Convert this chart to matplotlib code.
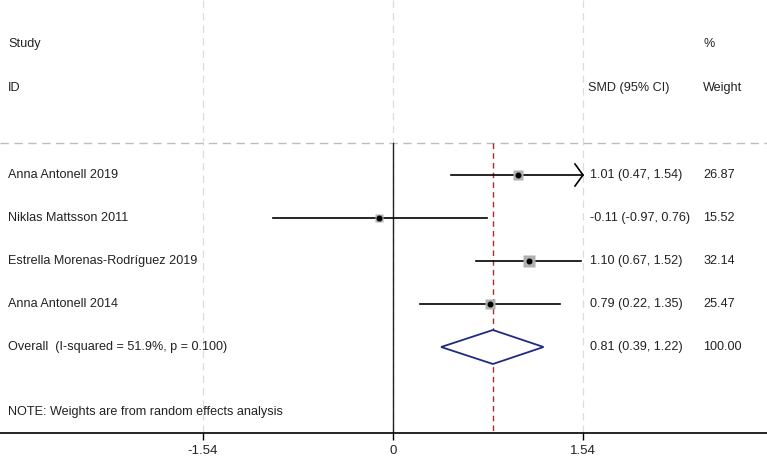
import matplotlib
matplotlib.use("Agg")
import matplotlib.pyplot as plt

plt.rcParams['font.family'] = ['Liberation Sans', 'DejaVu Sans']

studies = ["Anna Antonell 2019", "Niklas Mattsson 2011",
           "Estrella Morenas-Rodríguez 2019", "Anna Antonell 2014"]
smd = [1.01, -0.11, 1.10, 0.79]
lo = [0.47, -0.97, 0.67, 0.22]
hi = [1.54, 0.76, 1.52, 1.35]
weights = [26.87, 15.52, 32.14, 25.47]
overall_label = "Overall  (I-squared = 51.9%, p = 0.100)"
overall = (0.81, 0.39, 1.22)
overall_weight = 100.00
xticks = [-1.54, 0, 1.54]
xticklabels = ["-1.54", "0", "1.54"]
xmax_axis = 1.54

W, H = 767, 462
fig = plt.figure(figsize=(W / 100, H / 100), dpi=100)
ax = fig.add_axes([0, (H - 433) / H, 1, 433 / H])

scale = 190 / 1.54  # px per unit
x0px = 393
ax.set_xlim((0 - x0px) / scale, (W - x0px) / scale)
row_h = 43.0
y0px = 175.0
ax.set_ylim((433 - y0px) / row_h, (0 - y0px) / row_h)

for s in ["top", "right", "left"]:
    ax.spines[s].set_visible(False)
ax.spines["bottom"].set_linewidth(1.2)
ax.set_yticks([])
ax.set_xticks(xticks)
ax.set_xticklabels(xticklabels, fontsize=9.5, color="#222222")
ax.tick_params(axis="x", length=5, width=1.0, pad=4)

top = ax.get_ylim()[1]
bottom = ax.get_ylim()[0]
sep_y = (143 - y0px) / row_h

txt = "#222222"

# gray dashed vertical grid at ticks
for t in xticks:
    ax.plot([t, t], [top, bottom], color="#dcdcdc", lw=0.9, ls=(0, (6, 4)), zorder=0)
# gray dashed horizontal separator
ax.axhline(sep_y, color="#bdbdbd", lw=1.0, ls=(0, (6, 4)), zorder=0)

# null line
ax.plot([0, 0], [sep_y, bottom], color="#222222", lw=1.0, zorder=2)
# overall effect line
ax.plot([overall[0]] * 2, [sep_y, bottom], color="#b02a2a", lw=1.0,
        ls=(0, (4, 3)), zorder=2)

rows = list(range(len(studies)))
for i in rows:
    l, h = lo[i], min(hi[i], xmax_axis)
    ax.plot([l, h], [i, i], color="black", lw=1.2, zorder=3)
    ms = 1.4 * weights[i] ** 0.5
    ax.plot(smd[i], i, marker="s", ms=ms, color="#b0b0b0", mec="none", zorder=4)
    ax.plot(smd[i], i, marker="o", ms=3.3, color="black", zorder=5)
    if hi[i] >= xmax_axis:
        dx = 8 / scale
        dy = 11 / row_h
        ax.plot([h - dx, h, h - dx], [i - dy, i, i + dy], color="black",
                lw=1.2, zorder=3)

# overall diamond
oy = len(studies)
dh = 17 / row_h
ax.fill([overall[1], overall[0], overall[2], overall[0], overall[1]],
        [oy, oy - dh, oy, oy + dh, oy], facecolor="white",
        edgecolor="#1f2a80", lw=1.3, zorder=4)

tr = ax.get_yaxis_transform()
fs = 9.1
xs_lab = 8 / W
xs_ci = 590 / W
xs_w = 703 / W
ax.text(xs_lab, (44 - y0px) / row_h, "Study", transform=tr, fontsize=fs, va="center", color=txt)
ax.text(xs_lab, (88 - y0px) / row_h, "ID", transform=tr, fontsize=fs, va="center", color=txt)
ax.text(588 / W, (88 - y0px) / row_h, "SMD (95% CI)", transform=tr, fontsize=fs, va="center", color=txt)
ax.text(xs_w, (44 - y0px) / row_h, "%", transform=tr, fontsize=fs, va="center", color=txt)
ax.text(xs_w, (88 - y0px) / row_h, "Weight", transform=tr, fontsize=fs, va="center", color=txt)

for i in rows:
    ax.text(xs_lab, i, studies[i], transform=tr, fontsize=fs, va="center", color=txt)
    ax.text(xs_ci, i, f"{smd[i]:.2f} ({lo[i]:.2f}, {hi[i]:.2f})",
            transform=tr, fontsize=fs, va="center", color=txt)
    ax.text(xs_w, i, f"{weights[i]:.2f}", transform=tr, fontsize=fs, va="center", color=txt)

ax.text(xs_lab, oy, overall_label, transform=tr, fontsize=fs, va="center", color=txt)
ax.text(xs_ci, oy, f"{overall[0]:.2f} ({overall[1]:.2f}, {overall[2]:.2f})",
        transform=tr, fontsize=fs, va="center", color=txt)
ax.text(xs_w, oy, f"{overall_weight:.2f}", transform=tr, fontsize=fs, va="center", color=txt)

ax.text(xs_lab, (412 - y0px) / row_h, "NOTE: Weights are from random effects analysis",
        transform=tr, fontsize=fs, va="center", color=txt)

fig.savefig("out.png", dpi=100)
